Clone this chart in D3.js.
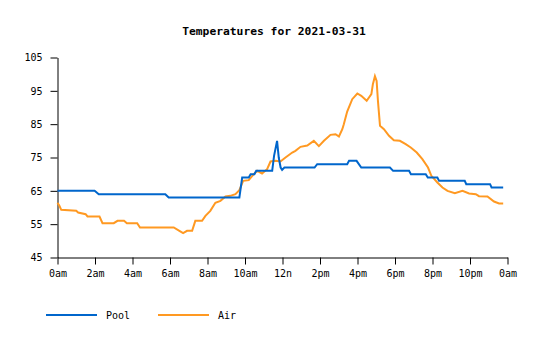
<!DOCTYPE html>
<html>
<head>
<meta charset="utf-8">
<script src="https://cdn.jsdelivr.net/npm/d3@7"></script>
<style>
  html, body { margin: 0; padding: 0; background: #fff; }
  svg { display: block; }
  text { font-family: "DejaVu Sans Mono", "Liberation Mono", monospace; }
</style>
</head>
<body>
<svg id="chart" width="540" height="340"></svg>
<script>
// ---- data (hours since midnight, °F) ----
const xTickHours = [0, 2, 4, 6, 8, 10, 12, 14, 16, 18, 20, 22, 24];
const xTickLabels = ["0am","2am","4am","6am","8am","10am","12n","2pm","4pm","6pm","8pm","10pm","0am"];
const yTicks = [45, 55, 65, 75, 85, 95, 105];
const seriesNames = ["Pool", "Air"];

const poolTimes = [0, 1.98, 2.2, 5.75, 5.93, 9.7, 9.85, 10.2, 10.3, 10.5, 10.6, 11.45, 11.55, 11.71, 11.8, 11.9, 11.98, 12.1, 13.71, 13.85, 15.45, 15.55, 15.95, 16.2, 17.73, 17.9, 18.75, 18.85, 19.64, 19.75, 20.26, 20.35, 21.72, 21.8, 23.07, 23.15, 23.77];
const poolTemps = [65, 65, 64, 64, 63, 63, 69, 69, 70, 70, 71, 71, 75.5, 80, 75, 72, 71.3, 72, 72, 73, 73, 74, 74, 72, 72, 71, 71, 70, 70, 69, 69, 68, 68, 67, 67, 66, 66];

const airTimes = [0, 0.1, 0.2, 1.0, 1.1, 1.5, 1.6, 2.24, 2.4, 3.0, 3.2, 3.55, 3.7, 4.25, 4.4, 6.2, 6.5, 6.7, 6.91, 7.18, 7.35, 7.71, 7.89, 8.15, 8.42, 8.69, 8.96, 9.22, 9.49, 9.7, 9.9, 10.2, 10.47, 10.65, 10.91, 11.18, 11.36, 11.63, 11.89, 12.16, 12.52, 12.69, 12.96, 13.32, 13.67, 13.94, 14.21, 14.56, 14.83, 15.01, 15.19, 15.27, 15.45, 15.72, 15.99, 16.2, 16.49, 16.74, 16.82, 16.93, 17.02, 17.09, 17.2, 17.41, 17.68, 17.94, 18.26, 18.57, 18.84, 19.16, 19.46, 19.76, 19.94, 20.26, 20.53, 20.8, 21.19, 21.6, 21.95, 22.31, 22.48, 22.93, 23.28, 23.55, 23.77];
const airTemps = [61.4, 60.5, 59.3, 59, 58.5, 58, 57.3, 57.3, 55.3, 55.3, 56, 56, 55.3, 55.3, 54, 54, 53, 52.3, 53, 53, 56, 56, 57.5, 59, 61.4, 62, 63.3, 63.5, 64, 65.2, 68, 68.2, 70, 71, 70.2, 71.5, 73.8, 74, 73.8, 75, 76.5, 77, 78.2, 78.6, 80, 78.4, 80, 81.8, 82, 81.3, 83.5, 85, 88.8, 92.5, 94.2, 93.5, 92, 94, 97, 99.4, 98, 92, 84.5, 83.5, 81.5, 80.2, 80, 79, 78, 76.5, 74.5, 72, 69.5, 67.5, 66, 65, 64.3, 65, 64.2, 64, 63.4, 63.3, 61.8, 61.2, 61.2];

const colors = ["#0066cc", "#ff9922"];
const title = "Temperatures for 2021-03-31";

// ---- layout ----
const svg = d3.select("#chart");
const W = 540, H = 340;
const margin = { top: 57, right: 33, bottom: 83, left: 57 };
const innerW = W - margin.left - margin.right;
const innerH = H - margin.top - margin.bottom;

const x = d3.scaleLinear().domain([0, 24]).range([margin.left + 0.5, margin.left + innerW + 0.5]);
const y = d3.scaleLinear().domain([45, 105]).range([margin.top + innerH + 0.5, margin.top + 0.5]);

svg.append("text")
  .attr("x", 274).attr("y", 35)
  .attr("text-anchor", "middle")
  .attr("font-size", 11.3).attr("font-weight", "bold")
  .attr("fill", "#000")
  .text(title);

const xAxis = d3.axisBottom(x)
  .tickValues(xTickHours)
  .tickFormat((d, i) => xTickLabels[i])
  .tickSize(7).tickSizeOuter(0).tickPadding(5);
const gx = svg.append("g")
  .attr("transform", `translate(0,${margin.top + innerH + 0.5})`)
  .call(xAxis);

const yAxis = d3.axisLeft(y)
  .tickValues(yTicks)
  .tickSize(7).tickSizeOuter(0).tickPadding(8);
const gy = svg.append("g")
  .attr("transform", `translate(${margin.left + 0.5},0)`)
  .call(yAxis);

[gx, gy].forEach(g => {
  g.selectAll("text").attr("font-size", 10).attr("font-family", '"DejaVu Sans Mono", monospace').attr("fill", "#000");
  g.selectAll("path,line").attr("stroke", "#000");
});

const line = d3.line().x(d => x(d[0])).y(d => y(d[1]));
const series = [
  d3.zip(poolTimes, poolTemps),
  d3.zip(airTimes, airTemps)
];

svg.append("path").datum(series[1])
  .attr("d", line).attr("fill", "none")
  .attr("stroke", colors[1]).attr("stroke-width", 2);
svg.append("path").datum(series[0])
  .attr("d", line).attr("fill", "none")
  .attr("stroke", colors[0]).attr("stroke-width", 2);

// legend
const legendX = [46, 158];
seriesNames.forEach((name, i) => {
  const lg = svg.append("g");
  lg.append("line")
    .attr("x1", legendX[i]).attr("x2", legendX[i] + 51)
    .attr("y1", 315).attr("y2", 315)
    .attr("stroke", colors[i]).attr("stroke-width", 2);
  lg.append("text")
    .attr("x", legendX[i] + 60).attr("y", 318.5)
    .attr("font-size", 10).attr("fill", "#000")
    .text(name);
});
</script>
</body>
</html>
